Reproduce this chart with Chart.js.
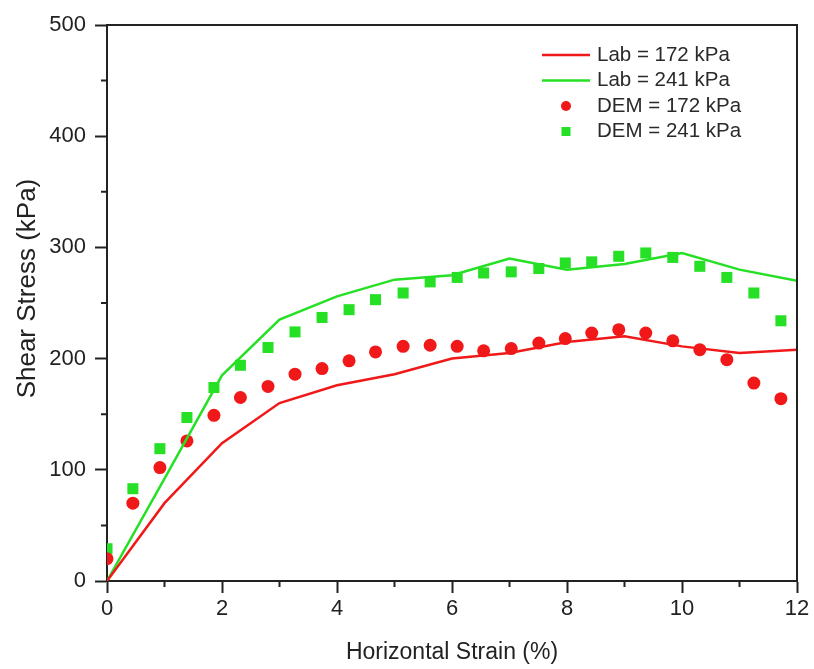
<!DOCTYPE html>
<html>
<head>
<meta charset="utf-8">
<script src="https://cdn.jsdelivr.net/npm/chart.js@4.4.1/dist/chart.umd.min.js"></script>
<style>
  html, body { margin: 0; padding: 0; background: #fff; }
  #wrap { width: 814px; height: 669px; }
</style>
</head>
<body>
<div id="wrap"><canvas id="shear"></canvas></div>
<script>
// lab test curves (strain in %, stress in kPa)
const labStrain = [0, 1, 2, 3, 4, 5, 6, 7, 8, 9, 10, 11, 12];
const lab172 = [0, 70, 124, 160, 176, 186, 200, 205, 215, 220, 211, 205, 208];
const lab241 = [0, 92, 185, 235, 256, 271, 275, 290, 280, 285, 295, 280, 270];

// DEM simulation output
const demStrain = [0, 0.45, 0.92, 1.39, 1.86, 2.32, 2.8, 3.27, 3.74, 4.21, 4.67, 5.15, 5.62,
  6.09, 6.55, 7.03, 7.51, 7.97, 8.43, 8.9, 9.37, 9.84, 10.31, 10.78, 11.25, 11.72];
const dem172 = [20, 70, 102, 126, 149, 165, 175, 186, 191, 198, 206, 211, 212,
  211, 207, 209, 214, 218, 223, 226, 223, 216, 208, 199, 178, 164];
const dem241 = [29, 83, 119, 147, 174, 194, 210, 224, 237, 244, 253, 259, 269,
  273, 277, 278, 281, 286, 287, 292, 295, 291, 283, 273, 259, 234];

const xTickValues = [0, 2, 4, 6, 8, 10, 12];
const yTickValues = [0, 100, 200, 300, 400, 500];
const xMinorTicks = [1, 3, 5, 7, 9, 11];
const yMinorTicks = [50, 150, 250, 350, 450];

const RED = '#f01818';
const GREEN = '#26e026';
const AXIS = '#222';
const FONT = "'Liberation Sans', Arial, sans-serif";

const pairs = (xs, ys) => xs.map((x, i) => ({ x: x, y: ys[i] }));

// top/right frame, minor ticks, y title and the legend box
const decorations = {
  id: 'decorations',
  afterDraw(chart) {
    const ctx = chart.ctx;
    const a = chart.chartArea;
    const xs = chart.scales.x, ys = chart.scales.y;
    ctx.save();
    ctx.strokeStyle = AXIS;
    ctx.lineWidth = 2;
    ctx.beginPath();
    ctx.moveTo(a.left, a.top);
    ctx.lineTo(a.right, a.top);
    ctx.lineTo(a.right, a.bottom);
    ctx.stroke();

    ctx.beginPath();
    xMinorTicks.forEach(v => {
      const px = xs.getPixelForValue(v);
      ctx.moveTo(px, a.bottom);
      ctx.lineTo(px, a.bottom + 6);
    });
    yMinorTicks.forEach(v => {
      const py = ys.getPixelForValue(v);
      ctx.moveTo(a.left, py);
      ctx.lineTo(a.left - 6, py);
    });
    ctx.stroke();

    // y axis title, sits a bit above the middle of the axis
    ctx.save();
    ctx.translate(28, ys.getPixelForValue(263));
    ctx.rotate(-Math.PI / 2);
    ctx.font = '26px ' + FONT;
    ctx.fillStyle = AXIS;
    ctx.textAlign = 'center';
    ctx.textBaseline = 'middle';
    ctx.fillText('Shear Stress (kPa)', 0, 0);
    ctx.restore();

    // legend
    const items = [
      { text: 'Lab = 172 kPa', color: RED, kind: 'line' },
      { text: 'Lab = 241 kPa', color: GREEN, kind: 'line' },
      { text: 'DEM = 172 kPa', color: RED, kind: 'circle' },
      { text: 'DEM = 241 kPa', color: GREEN, kind: 'rect' }
    ];
    const symX = a.right - 231;
    const textX = a.right - 200;
    let y = a.top + 30;
    ctx.font = '20.5px ' + FONT;
    ctx.textBaseline = 'middle';
    ctx.textAlign = 'left';
    items.forEach(it => {
      ctx.fillStyle = it.color;
      ctx.strokeStyle = it.color;
      if (it.kind === 'line') {
        ctx.lineWidth = 2.5;
        ctx.beginPath();
        ctx.moveTo(symX - 24, y);
        ctx.lineTo(symX + 24, y);
        ctx.stroke();
      } else if (it.kind === 'circle') {
        ctx.beginPath();
        ctx.arc(symX, y, 5, 0, Math.PI * 2);
        ctx.fill();
      } else {
        ctx.fillRect(symX - 4.5, y - 4.5, 9, 9);
      }
      ctx.fillStyle = '#2a2a2a';
      ctx.fillText(it.text, textX, y);
      y += 25.5;
    });
    ctx.restore();
  }
};

new Chart(document.getElementById('shear'), {
  type: 'scatter',
  data: {
    datasets: [
      {
        label: 'Lab = 172 kPa',
        data: pairs(labStrain, lab172),
        showLine: true,
        borderColor: RED,
        borderWidth: 2.5,
        pointRadius: 0,
        clip: 0
      },
      {
        label: 'Lab = 241 kPa',
        data: pairs(labStrain, lab241),
        showLine: true,
        borderColor: GREEN,
        borderWidth: 2.5,
        pointRadius: 0,
        clip: 0
      },
      {
        label: 'DEM = 172 kPa',
        data: pairs(demStrain, dem172),
        pointStyle: 'circle',
        pointRadius: 6.5,
        backgroundColor: RED,
        borderWidth: 0,
        clip: 0
      },
      {
        label: 'DEM = 241 kPa',
        data: pairs(demStrain, dem241),
        pointStyle: 'rect',
        pointRadius: 7.8,
        backgroundColor: GREEN,
        borderWidth: 0,
        clip: 0
      }
    ]
  },
  options: {
    responsive: true,
    maintainAspectRatio: false,
    animation: false,
    layout: { padding: { top: 25, right: 17, left: 0, bottom: 0 } },
    plugins: {
      legend: { display: false },
      tooltip: { enabled: false }
    },
    scales: {
      x: {
        type: 'linear',
        min: 0,
        max: 12,
        afterBuildTicks: s => { s.ticks = xTickValues.map(v => ({ value: v })); },
        afterFit: s => { s.height = 88; },
        grid: { drawOnChartArea: false, tickLength: 12, tickWidth: 2, tickColor: AXIS },
        border: { color: AXIS, width: 2 },
        ticks: { color: AXIS, padding: 3, maxRotation: 0, font: { family: FONT, size: 22 } },
        title: {
          display: true,
          text: 'Horizontal Strain (%)',
          color: AXIS,
          padding: { bottom: 3 },
          font: { family: FONT, size: 23 }
        }
      },
      y: {
        type: 'linear',
        min: 0,
        max: 500,
        afterBuildTicks: s => { s.ticks = yTickValues.map(v => ({ value: v })); },
        afterFit: s => { s.width = 107; },
        grid: { drawOnChartArea: false, tickLength: 12, tickWidth: 2, tickColor: AXIS },
        border: { color: AXIS, width: 2 },
        ticks: { color: AXIS, padding: 9, font: { family: FONT, size: 22 } }
      }
    }
  },
  plugins: [decorations]
});
</script>
</body>
</html>
